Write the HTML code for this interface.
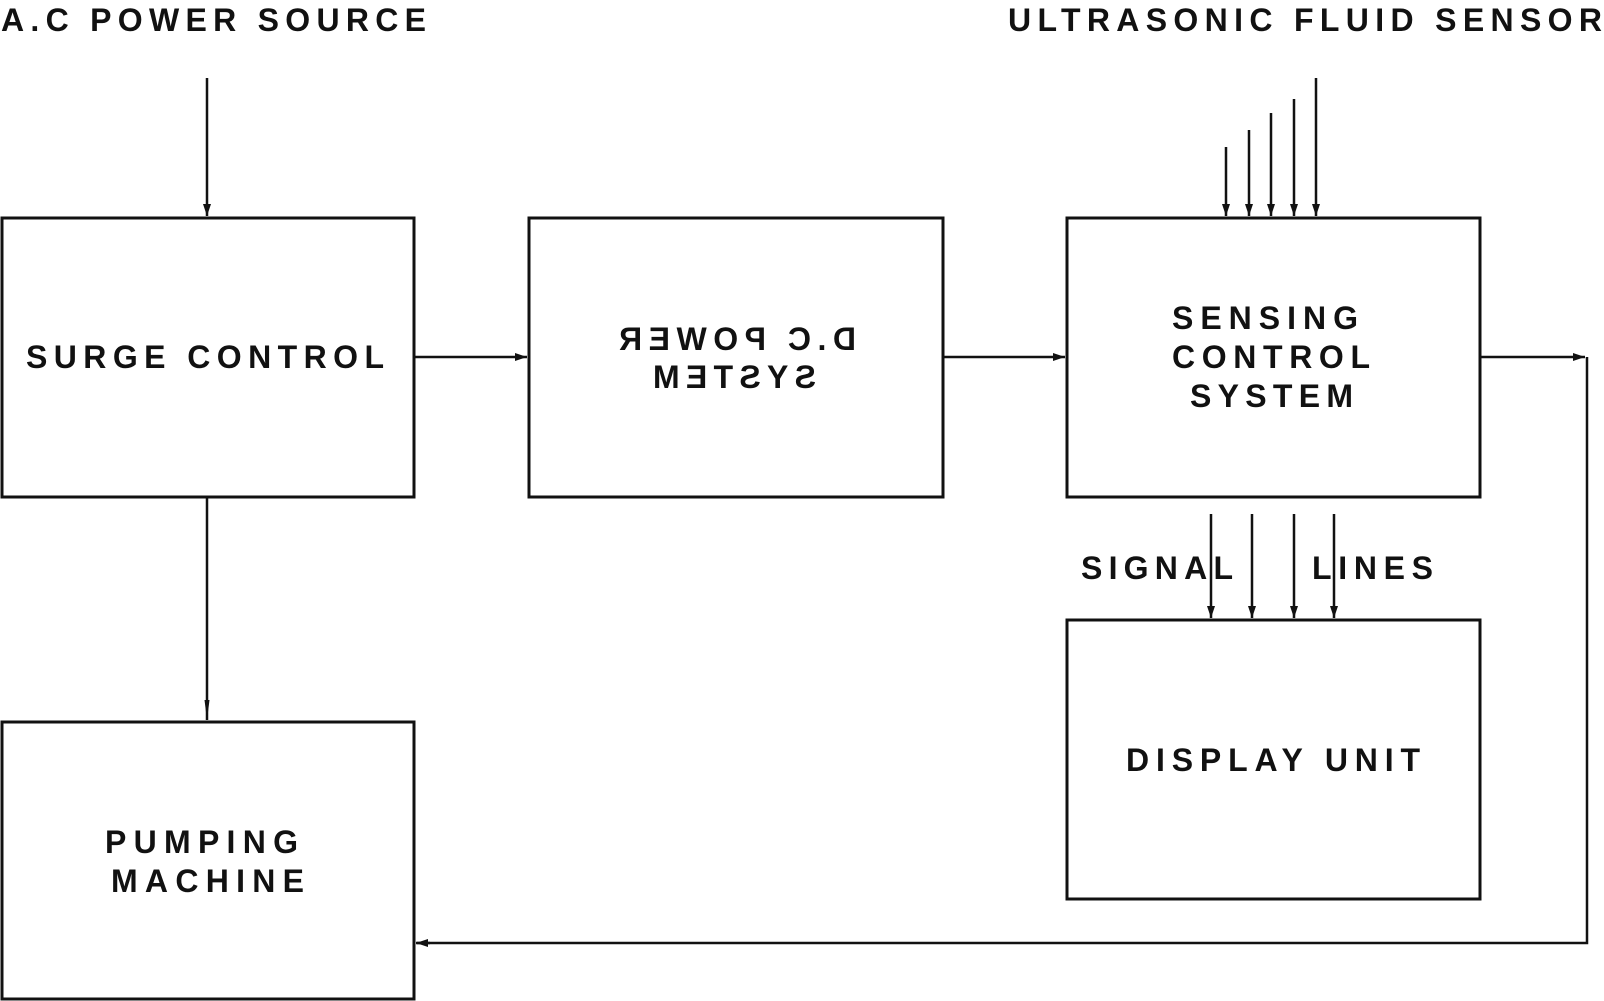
<!DOCTYPE html>
<html><head><meta charset="utf-8"><style>
html,body{margin:0;padding:0;background:#fff;}
svg{display:block;}
text{font-family:"Liberation Sans",Arial,sans-serif;font-weight:bold;font-size:32px;fill:#111;}
</style></head><body>
<svg width="1604" height="1001" viewBox="0 0 1604 1001" xmlns="http://www.w3.org/2000/svg">
<defs>
<marker id="a" markerWidth="12" markerHeight="8" refX="12" refY="4" orient="auto" markerUnits="userSpaceOnUse">
<path d="M0,0 L12,4 L0,8 Z" fill="#111"/>
</marker>
<marker id="b" markerWidth="20" markerHeight="8" refX="20" refY="4" orient="auto" markerUnits="userSpaceOnUse">
<path d="M0,1.5 L20,4 L0,6.5 Z" fill="#111"/>
</marker>
</defs>
<g fill="none" stroke="#111" stroke-width="3">
<rect x="2" y="218" width="412" height="279"/>
<rect x="529" y="218" width="414" height="279"/>
<rect x="1067" y="218" width="413" height="279"/>
<rect x="1067" y="620" width="413" height="279"/>
<rect x="2" y="722" width="412" height="277"/>
</g>
<g stroke="#111" stroke-width="2.5" fill="none">
<line x1="207" y1="78" x2="207" y2="216" marker-end="url(#a)"/>
<line x1="207" y1="497" x2="207" y2="720" marker-end="url(#b)"/>
<line x1="414" y1="357" x2="527" y2="357" marker-end="url(#a)"/>
<line x1="943" y1="357" x2="1065" y2="357" marker-end="url(#a)"/>
<line x1="1480" y1="357" x2="1585" y2="357" marker-end="url(#a)"/>
<polyline points="1587,357 1587,943 417,943"/>
<line x1="430" y1="943" x2="416" y2="943" marker-end="url(#a)"/>
<line x1="1226" y1="147" x2="1226" y2="216" marker-end="url(#a)"/>
<line x1="1249" y1="130" x2="1249" y2="216" marker-end="url(#a)"/>
<line x1="1271" y1="113" x2="1271" y2="216" marker-end="url(#a)"/>
<line x1="1294" y1="99" x2="1294" y2="216" marker-end="url(#a)"/>
<line x1="1316" y1="78" x2="1316" y2="216" marker-end="url(#a)"/>
<line x1="1211" y1="514" x2="1211" y2="618" marker-end="url(#a)"/>
<line x1="1252" y1="514" x2="1252" y2="618" marker-end="url(#a)"/>
<line x1="1294" y1="514" x2="1294" y2="618" marker-end="url(#a)"/>
<line x1="1334" y1="514" x2="1334" y2="618" marker-end="url(#a)"/>
</g>
<text x="1" y="31" textLength="425" lengthAdjust="spacing">A.C POWER SOURCE</text>
<text x="1008" y="31" textLength="594" lengthAdjust="spacing">ULTRASONIC FLUID SENSOR</text>
<text x="26" y="368" textLength="358" lengthAdjust="spacing">SURGE CONTROL</text>
<g transform="translate(1474,0) scale(-1,1)">
<text x="618" y="350" textLength="237" lengthAdjust="spacing">D.C POWER</text>
<text x="658" y="388" textLength="163" lengthAdjust="spacing">SYSTEM</text>
</g>
<text x="1172" y="329" textLength="186" lengthAdjust="spacing">SENSING</text>
<text x="1172" y="368" textLength="198" lengthAdjust="spacing">CONTROL</text>
<text x="1190" y="407" textLength="163" lengthAdjust="spacing">SYSTEM</text>
<text x="1081" y="579" textLength="152" lengthAdjust="spacing">SIGNAL</text>
<text x="1312" y="579" textLength="121" lengthAdjust="spacing">LINES</text>
<text x="1126" y="771" textLength="294" lengthAdjust="spacing">DISPLAY UNIT</text>
<text x="105" y="853" textLength="193" lengthAdjust="spacing">PUMPING</text>
<text x="111" y="892" textLength="193" lengthAdjust="spacing">MACHINE</text>
</svg>
</body></html>
